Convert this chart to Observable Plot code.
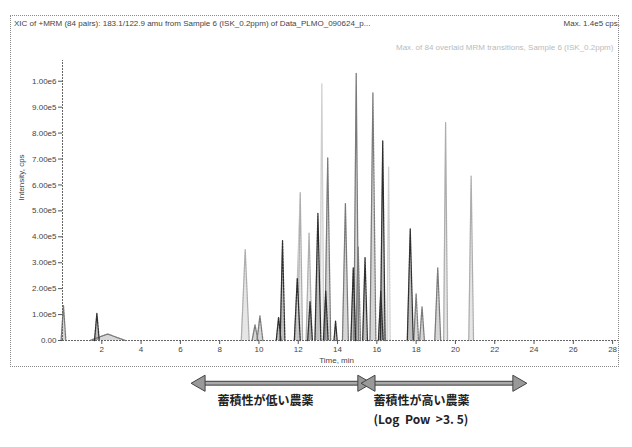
<!DOCTYPE html>
<html>
<head>
<meta charset="utf-8">
<script src="https://cdn.jsdelivr.net/npm/d3@7"></script>
<script src="https://cdn.jsdelivr.net/npm/@observablehq/plot@0.6"></script>
<style>
  html, body { margin: 0; padding: 0; background: #fff; }
  #wrap { position: relative; width: 632px; height: 447px; overflow: hidden; font-family: "Liberation Sans", Arial, sans-serif; }
  #wrap svg { position: absolute; left: 0; top: 0; }
  .frame { position: absolute; left: 10px; top: 15px; width: 609px; height: 352px; border: 1px dotted #888; box-sizing: border-box; }
  .t1 { position: absolute; left: 14px; top: 19px; font-size: 8px; color: #444; white-space: nowrap; }
  .t2 { position: absolute; right: 12px; top: 19px; font-size: 8px; color: #444; white-space: nowrap; }
  .t3 { position: absolute; left: 396px; top: 43px; font-size: 8px; color: #bbb; white-space: nowrap; }
</style>
</head>
<body>
<div id="wrap">
  <div class="frame"></div>
  <div class="t1">XIC of +MRM (84 pairs): 183.1/122.9 amu from Sample 6 (ISK_0.2ppm) of Data_PLMO_090624_p...</div>
  <div class="t2">Max. 1.4e5 cps.</div>
  <div class="t3">Max. of 84 overlaid MRM transitions, Sample 6 (ISK_0.2ppm)</div>
</div>
<script>
// ---- data ----
const xTicks = [2, 4, 6, 8, 10, 12, 14, 16, 18, 20, 22, 24, 26, 28];
const yTicks = [0, 1e5, 2e5, 3e5, 4e5, 5e5, 6e5, 7e5, 8e5, 9e5, 1e6];
const yTickLabels = ["0.00", "1.00e5", "2.00e5", "3.00e5", "4.00e5", "5.00e5", "6.00e5", "7.00e5", "8.00e5", "9.00e5", "1.00e6"];

// peaks: apex time (min), apex intensity (cps), half base width (min), shade
const peakTime   = [0.05, 1.75, 2.3, 9.3, 9.8, 10.05, 11.0, 11.2, 11.95, 12.1, 12.55, 12.6, 13.0, 13.2, 13.4, 13.5, 13.9, 14.4, 14.8, 14.95, 15.05, 15.4, 15.8, 16.2, 16.3, 16.6, 17.7, 18.0, 18.3, 19.1, 19.5, 20.8];
const peakHeight = [1.35e5, 1.05e5, 2.5e4, 3.5e5, 0.6e5, 0.95e5, 0.9e5, 3.85e5, 2.4e5, 5.7e5, 4.15e5, 1.5e5, 4.9e5, 9.9e5, 1.9e5, 7.05e5, 0.75e5, 5.3e5, 2.8e5, 1.03e6, 3.6e5, 3.2e5, 9.55e5, 1.9e5, 7.7e5, 6.7e5, 4.3e5, 1.8e5, 1.3e5, 2.8e5, 8.4e5, 6.35e5];
const peakHalfW  = [0.12, 0.12, 0.9, 0.2, 0.15, 0.15, 0.12, 0.12, 0.15, 0.12, 0.15, 0.12, 0.15, 0.1, 0.12, 0.15, 0.08, 0.15, 0.12, 0.12, 0.12, 0.12, 0.15, 0.12, 0.12, 0.08, 0.15, 0.12, 0.12, 0.15, 0.1, 0.12];
const peakShade  = ["mid", "dark", "mid", "light", "mid", "mid", "dark", "dark", "dark", "light", "light", "dark", "dark", "faint", "dark", "mid", "dark", "mid", "dark", "mid", "mid", "dark", "mid", "dark", "dark", "faint", "dark", "mid", "mid", "mid", "light", "light"];

// annotation below the chart
const rangeStart = [7.02, 15.67];
const rangeEnd   = [15.27, 23.16];
const rangeY = -1.65e5;
const annText = ["蓄積性が低い農薬", "蓄積性が高い農薬", "(Log  Pow  >3. 5)"];
const annX    = [10.33, 15.83, 15.83];

// ---- build tables ----
const shadeOrder = ["faint", "light", "mid", "dark"];
const shadeColor = {faint: "#cfcfcf", light: "#adadad", mid: "#7a7a7a", dark: "#2e2e2e"};
const order = d3.range(peakTime.length).sort((a, b) => shadeOrder.indexOf(peakShade[a]) - shadeOrder.indexOf(peakShade[b]));
const peakPts = [];
order.forEach((i, k) => {
  peakPts.push({id: k, t: peakTime[i] - peakHalfW[i], v: 0, s: peakShade[i]});
  peakPts.push({id: k, t: peakTime[i], v: peakHeight[i], s: peakShade[i]});
  peakPts.push({id: k, t: peakTime[i] + peakHalfW[i], v: 0, s: peakShade[i]});
});
const labelFor = new Map(yTicks.map((v, i) => [v, yTickLabels[i]]));
const ranges = rangeStart.map((s, i) => ({x1: s, x2: rangeEnd[i], y: rangeY}));
const heads = [];
ranges.forEach(r => { heads.push({x: r.x1, y: r.y, rot: -90}); heads.push({x: r.x2, y: r.y, rot: 90}); });

const chart = Plot.plot({
  width: 632,
  height: 447,
  marginLeft: 62,
  marginRight: 14,
  marginTop: 60,
  marginBottom: 107,
  style: {background: "transparent", fontFamily: "Liberation Sans, Arial, sans-serif", color: "#444"},
  x: {domain: [0, 28.3], axis: null},
  y: {domain: [0, 1.08e6], axis: null},
  marks: [
    Plot.areaY(peakPts, {x: "t", y: "v", z: "id", fill: d => shadeColor[d.s], fillOpacity: 0.3, curve: "linear"}),
    Plot.line(peakPts, {x: "t", y: "v", z: "id", stroke: d => shadeColor[d.s], strokeWidth: 1.3, strokeDasharray: "2,1"}),
    Plot.ruleY([0], {stroke: "#666", strokeDasharray: "2,1"}),
    Plot.ruleX([0], {y1: 0, y2: 1.08e6, stroke: "#666", strokeDasharray: "2,1"}),
    Plot.axisX(xTicks, {tickSize: 4, tickPadding: 2, fontSize: 8, stroke: "#555", fill: "#444", label: null}),
    Plot.axisY(yTicks, {tickSize: 4, tickPadding: 2, fontSize: 8, stroke: "#555", fill: "#444", label: null, tickFormat: d => labelFor.get(d)}),
    Plot.text(["Time, min"], {x: [13.95], frameAnchor: "bottom", dy: 22, fontSize: 8, fill: "#444"}),
    Plot.text(["Intensity, cps"], {frameAnchor: "left", dx: -41, rotate: -90, fontSize: 8, fill: "#444"}),
    // range arrows
    Plot.link(ranges, {x1: "x1", x2: "x2", y1: "y", y2: "y", stroke: "#555", strokeWidth: 5}),
    Plot.link(ranges, {x1: "x1", x2: "x2", y1: "y", y2: "y", stroke: "#aaa", strokeWidth: 2.5}),
    Plot.dot(heads, {x: "x", y: "y", symbol: "triangle", rotate: "rot", r: 6, fill: "#999", stroke: "#444", strokeWidth: 1}),
    Plot.text(annText.slice(0, 1), {x: annX.slice(0, 1), frameAnchor: "bottom", dy: 64, fontSize: 12, fontWeight: "bold", fill: "#222", fontFamily: "Noto Sans CJK JP"}),
    Plot.text(annText.slice(1, 2), {x: annX.slice(1, 2), frameAnchor: "bottom", dy: 64, textAnchor: "start", fontSize: 12, fontWeight: "bold", fill: "#222", fontFamily: "Noto Sans CJK JP"}),
    Plot.text(annText.slice(2, 3), {x: annX.slice(2, 3), frameAnchor: "bottom", dy: 83, textAnchor: "start", fontSize: 12, fontWeight: "bold", fill: "#222", fontFamily: "Noto Sans CJK JP"})
  ]
});
document.getElementById("wrap").appendChild(chart);
</script>
</body>
</html>
